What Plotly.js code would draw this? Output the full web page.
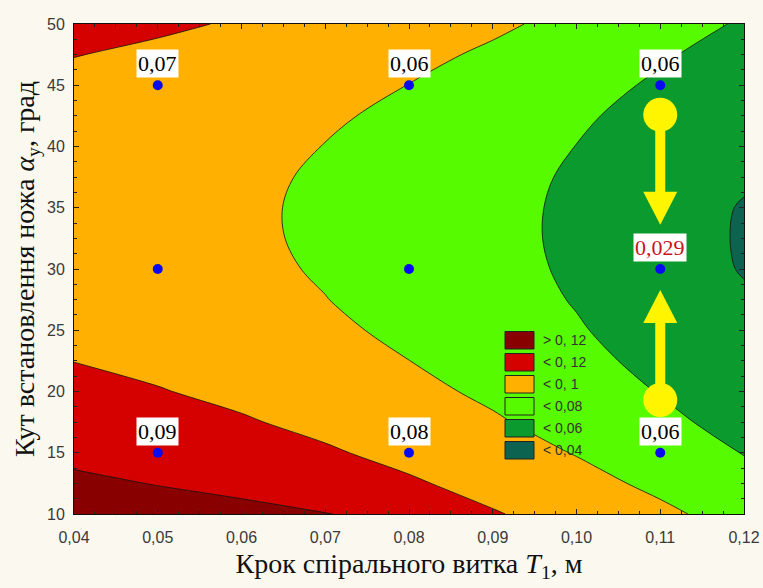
<!DOCTYPE html>
<html>
<head>
<meta charset="utf-8">
<script src="https://cdn.plot.ly/plotly-3.0.1.min.js"></script>
<style>html,body{margin:0;padding:0;background:#fbf8ef;}#chart{width:763px;height:588px;}</style>
</head>
<body>
<div id="chart"></div>
<script>
// Grid of the response surface
const xGrid = [0.04, 0.05, 0.06, 0.07, 0.08, 0.09, 0.10, 0.11, 0.12];
const yGrid = [10, 12.5, 15, 17.5, 20, 22.5, 25, 27.5, 30, 32.5, 35, 37.5, 40, 42.5, 45, 47.5, 50];
const zGrid = [
  [0.1312, 0.1272, 0.1255, 0.1210, 0.1100, 0.1012, 0.0932, 0.0835, 0.0729],
  [0.1232, 0.1194, 0.1145, 0.1088, 0.1020, 0.0944, 0.0858, 0.0762, 0.0657],
  [0.1161, 0.1123, 0.1076, 0.1019, 0.0953, 0.0877, 0.0792, 0.0698, 0.0594],
  [0.1099, 0.1062, 0.1015, 0.0959, 0.0894, 0.0819, 0.0735, 0.0641, 0.0538],
  [0.1044, 0.1008, 0.0963, 0.0908, 0.0843, 0.0770, 0.0686, 0.0593, 0.0491],
  [0.0998, 0.0963, 0.0919, 0.0865, 0.0801, 0.0728, 0.0646, 0.0554, 0.0453],
  [0.0961, 0.0927, 0.0883, 0.0830, 0.0767, 0.0695, 0.0614, 0.0523, 0.0423],
  [0.0932, 0.0898, 0.0856, 0.0803, 0.0742, 0.0671, 0.0590, 0.0500, 0.0420],
  [0.0911, 0.0879, 0.0837, 0.0785, 0.0725, 0.0654, 0.0575, 0.0486, 0.0390],
  [0.0899, 0.0867, 0.0826, 0.0776, 0.0716, 0.0647, 0.0568, 0.0480, 0.0384],
  [0.0895, 0.0864, 0.0824, 0.0775, 0.0716, 0.0647, 0.0570, 0.0482, 0.0389],
  [0.0899, 0.0869, 0.0830, 0.0782, 0.0724, 0.0656, 0.0579, 0.0493, 0.0420],
  [0.0912, 0.0883, 0.0845, 0.0797, 0.0740, 0.0674, 0.0598, 0.0512, 0.0425],
  [0.0933, 0.0905, 0.0868, 0.0821, 0.0765, 0.0699, 0.0624, 0.0540, 0.0446],
  [0.0963, 0.0936, 0.0899, 0.0854, 0.0798, 0.0734, 0.0660, 0.0576, 0.0483],
  [0.1004, 0.0974, 0.0939, 0.0894, 0.0840, 0.0776, 0.0703, 0.0620, 0.0528],
  [0.1047, 0.1022, 0.0987, 0.0943, 0.0890, 0.0827, 0.0755, 0.0673, 0.0582]
];

// Experimental design points
const ptX = [0.05, 0.05, 0.05, 0.08, 0.08, 0.08, 0.11, 0.11, 0.11];
const ptY = [15, 30, 45, 15, 30, 45, 15, 30, 45];

// Value labels
const labelX = [0.05, 0.08, 0.11, 0.05, 0.08, 0.11, 0.11];
const labelY = [45, 45, 45, 15, 15, 15, 30];
const labelText = ['0,07', '0,06', '0,06', '0,09', '0,08', '0,06', '0,029'];
const labelColor = ['#000', '#000', '#000', '#000', '#000', '#000', '#c8141e'];

// Contour levels and legend
const levelStart = 0.04, levelEnd = 0.12, levelStep = 0.02;
const bandColors = ['#0c6450', '#0b9a2d', '#57fb00', '#ffb000', '#d50000', '#880000'];
const legendLabels = ['> 0, 12', '< 0, 12', '< 0, 1', '< 0,08', '< 0,06', '< 0,04'];
const legendColors = ['#880000', '#d50000', '#ffb000', '#57fb00', '#0b9a2d', '#0c6450'];

// Arrow anchors (x, y of circle centre)
const arrowX = 0.11;
const arrowTopY = 42.6;
const arrowBottomY = 19.3;

const n = bandColors.length;
const colorscale = [];
bandColors.forEach((c, i) => {
  colorscale.push([i / n, c]);
  colorscale.push([(i + 1) / n, c]);
});

const traces = [
  {
    type: 'contour',
    x: xGrid, y: yGrid, z: zGrid,
    autocontour: false,
    contours: {start: levelStart, end: levelEnd, size: levelStep, coloring: 'fill', showlines: true},
    line: {color: '#111', width: 0.8, smoothing: 1},
    colorscale: colorscale,
    showscale: false,
    hoverinfo: 'skip'
  },
  {
    type: 'scatter', mode: 'markers',
    x: ptX, y: ptY,
    marker: {color: '#0a0af0', size: 10},
    hoverinfo: 'skip', showlegend: false
  }
];

const annotations = labelText.map((t, i) => ({
  x: labelX[i], y: labelY[i], xref: 'x', yref: 'y',
  text: t, showarrow: false, yanchor: 'bottom', yshift: 7,
  bgcolor: '#ffffff', borderpad: 1,
  font: {family: 'Liberation Serif, Times New Roman, serif', size: 22, color: labelColor[i]}
}));

const shapes = [];
// legend
const L = {l: 74, t: 24, w: 670, h: 490};
const legX0 = 505, legX1 = 534, legTop = 331.5, legStep = 22, legH = 17.5, legTextX = 541;
legendLabels.forEach((lab, i) => {
  const top = legTop + legStep * i;
  shapes.push({
    type: 'rect', xref: 'paper', yref: 'paper',
    x0: (legX0 - L.l) / L.w, x1: (legX1 - L.l) / L.w,
    y0: (L.t + L.h - top) / L.h, y1: (L.t + L.h - top - legH) / L.h,
    fillcolor: legendColors[i], line: {color: '#222', width: 1}
  });
  annotations.push({
    xref: 'paper', yref: 'paper',
    x: (legTextX - L.l) / L.w, y: (L.t + L.h - top - legH / 2) / L.h,
    xanchor: 'left', yanchor: 'middle', showarrow: false,
    text: lab, font: {family: 'Liberation Sans, Arial, sans-serif', size: 14, color: '#333'}
  });
});

// yellow arrows
const yellow = '#fff500';
[[arrowTopY, -1], [arrowBottomY, 1]].forEach(([cy, dir]) => {
  shapes.push({
    type: 'circle', xref: 'x', yref: 'y', xsizemode: 'pixel', ysizemode: 'pixel',
    xanchor: arrowX, yanchor: cy, x0: -17, x1: 17, y0: -17, y1: 17,
    fillcolor: yellow, line: {width: 0}
  });
  const b = 77 * dir, tip = 110 * dir;
  shapes.push({
    type: 'path', xref: 'x', yref: 'y', xsizemode: 'pixel', ysizemode: 'pixel',
    xanchor: arrowX, yanchor: cy,
    path: `M -5,0 L 5,0 L 5,${b} L 17,${b} L 0,${tip} L -17,${b} L -5,${b} Z`,
    fillcolor: yellow, line: {width: 0}
  });
});

const tickFont = {family: 'Liberation Sans, Arial, sans-serif', size: 16, color: '#3a3a3a'};
const titleFont = {family: 'Liberation Serif, Times New Roman, serif', size: 28, color: '#111'};

const layout = {
  width: 763, height: 588,
  margin: {l: 74, r: 19, t: 24, b: 74},
  paper_bgcolor: '#fbf8ef', plot_bgcolor: '#fbf8ef',
  separators: ', ',
  showlegend: false,
  xaxis: {
    range: [0.04, 0.12], dtick: 0.01, tick0: 0.04, tickformat: '.2f',
    ticks: 'inside', ticklen: 5, tickcolor: '#222', ticklabelstandoff: 9,
    minor: {dtick: 0.0025, ticks: 'inside', ticklen: 3, tickcolor: '#222'},
    showline: true, linecolor: '#111', linewidth: 1, mirror: 'ticks',
    showgrid: false, zeroline: false, tickfont: tickFont,
    title: {text: 'Крок спірального витка <i>T</i><sub>1</sub>, м', font: titleFont, standoff: 8}
  },
  yaxis: {
    range: [10, 50], dtick: 5, tick0: 10,
    ticks: 'inside', ticklen: 5, tickcolor: '#222', ticklabelstandoff: 5,
    minor: {dtick: 1.25, ticks: 'inside', ticklen: 3, tickcolor: '#222'},
    showline: true, linecolor: '#111', linewidth: 1, mirror: 'ticks',
    showgrid: false, zeroline: false, tickfont: tickFont,
    title: {text: 'Кут встановлення ножа <i>α</i><sub>y</sub>, град', font: titleFont, standoff: 4}
  },
  shapes: shapes,
  annotations: annotations
};

Plotly.newPlot('chart', traces, layout, {displayModeBar: false, staticPlot: true});
</script>
</body>
</html>
